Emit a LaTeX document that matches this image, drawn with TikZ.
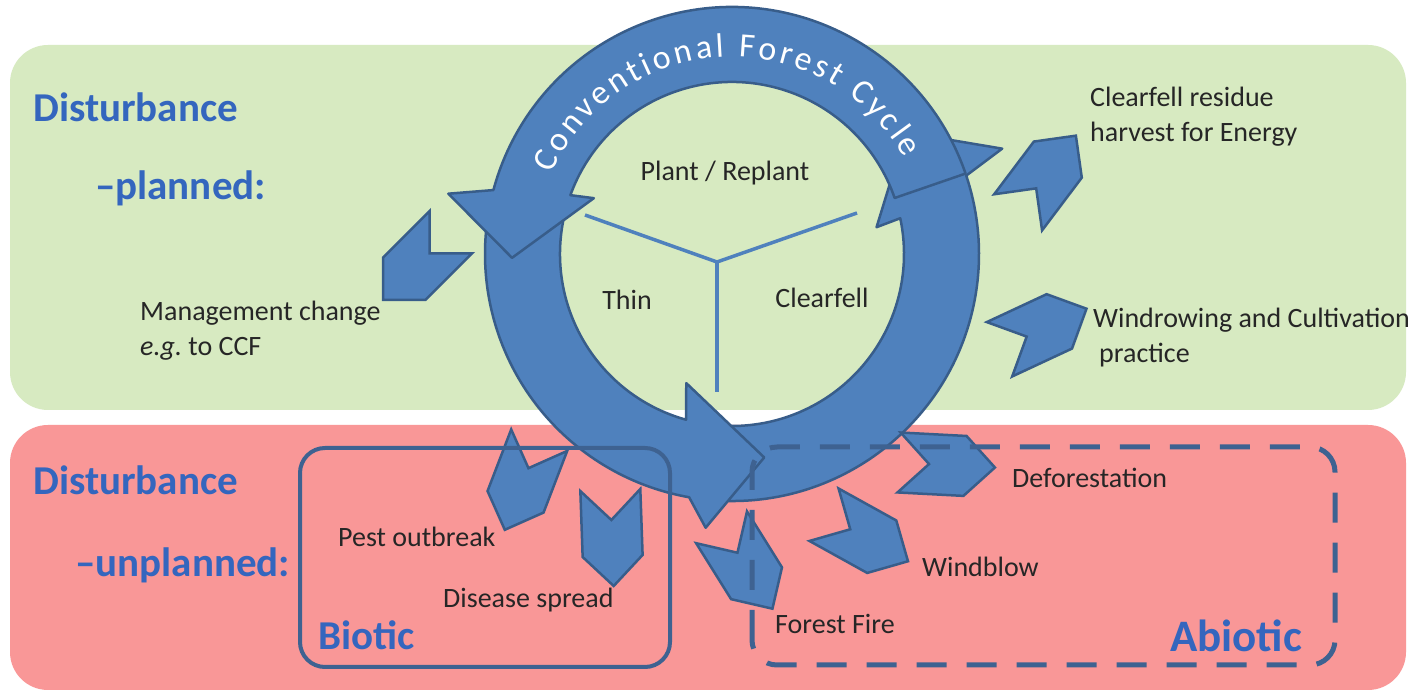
\documentclass[tikz,border=0pt]{standalone}
\usepackage{fontspec}
\setmainfont{Carlito}
\usepackage{tikz}
\usetikzlibrary{decorations.text}

\definecolor{leafgreen}{RGB}{215,234,193}
\definecolor{alarmpink}{RGB}{249,151,151}
\definecolor{cyclefill}{RGB}{79,129,189}
\definecolor{cycleline}{RGB}{56,93,138}
\definecolor{boxline}{RGB}{62,98,145}
\definecolor{headblue}{RGB}{52,102,190}

\tikzset{
  ring/.style={fill=cyclefill, draw=cycleline, line width=2.5pt, line join=round},
  chev/.style={fill=cyclefill, draw=cycleline, line width=2.5pt},
  yline/.style={draw=cyclefill, line width=3.5pt},
  lbl/.style={font=\fontsize{28}{35}\selectfont, text=black!85, anchor=west, inner sep=0pt, align=left},
  head/.style={font=\fontsize{41}{43}\selectfont\bfseries, text=headblue, anchor=west, inner sep=0pt},
  group/.style={draw=boxline, rounded corners=25},
}

\begin{document}
\begin{tikzpicture}[x=1pt, y=1pt]
  \useasboundingbox (0,0) rectangle (1408,695);
  \fill[white] (0,0) rectangle (1408,695);

  % planned / unplanned bands
  \fill[leafgreen, rounded corners=38] (10,285) rectangle (1406,650);
  \fill[alarmpink, rounded corners=38] (10,5) rectangle (1406,270);

  % the cycle, three curved arrows
  \begin{scope}[shift={(732,441)}]
    \filldraw[ring] (262:247) arc[start angle=262, end angle=378.5, radius=247] -- (381.3:290) -- (395:212)
      -- (370.5:147) -- (372:172) arc[start angle=372, end angle=262, radius=172] -- cycle;
    \filldraw[ring] (167:247) arc[start angle=167, end angle=260, radius=247] -- (264.5:275) -- (279:206)
      -- (250.5:137) -- (254.5:172) arc[start angle=254.5, end angle=167, radius=172] -- cycle;
    \filldraw[ring] (19:247) arc[start angle=19, end angle=165, radius=247] -- (168:290) -- (181:220)
      -- (158:149) -- (160:172) arc[start angle=160, end angle=19, radius=172] -- cycle;
    \path[decorate, decoration={text along path, text align=fit to path,
      text={|\fontsize{34}{34}\selectfont\color{white}|Conventional Forest Cycle}}]
      (156:197) arc[start angle=156, end angle=29, radius=197];
  \end{scope}

  % disturbance chevrons
  \foreach \cx/\cy/\ang in {417/429/225, 1047/521/53, 1043/366/25, 522/210/249,
                            612/157/272, 747/127/302, 866/157/331, 947/230/357}
    \draw[chev, shift={(\cx,\cy)}, rotate=\ang]
      (-48,30) -- (18,30) -- (48,0) -- (18,-30) -- (-48,-30) -- (-18,0) -- cycle;

  % stages inside the cycle
  \coordinate (hub) at (717,433);
  \coordinate (hubl) at (585,480);
  \coordinate (hubr) at (857,482);
  \coordinate (hubd) at (717,303);
  \draw[yline] (hubl) -- (hub) -- (hubr);
  \draw[yline] (hub) -- (hubd);
  \node[lbl, anchor=center] (plant) at (725,522) {Plant / Replant};
  \node[lbl, anchor=center] (thin) at (627,395) {Thin};
  \node[lbl, anchor=center] (fell) at (822,397) {Clearfell};

  % biotic / abiotic groups
  \draw[group, line width=4pt] (300,28) rectangle (670,247);
  \draw[group, line width=5pt, dash pattern=on 30 off 20] (752,30) rectangle (1335,248);

  % headings
  \node[head] (distp) at (33,588) {Disturbance};
  \node[head] (plan) at (95,507) {–planned:};
  \node[head] (distu) at (33,215) {Disturbance};
  \node[head] (unplan) at (75,130) {–unplanned:};
  \node[head] (biotic) at (318,60) {Biotic};
  \node[head, font=\fontsize{45}{47}\selectfont\bfseries] (abiotic) at (1170,59) {Abiotic};

  % labels
  \node[lbl] (mgmt) at (140,364) {Management change\\\textit{e.g.}\ to CCF};
  \node[lbl] (resid) at (1090,578) {Clearfell residue\\harvest for Energy};
  \node[lbl] (windrow) at (1093,357) {Windrowing and Cultivation\\\hspace{6pt}practice};
  \node[lbl] (pest) at (338,158) {Pest outbreak};
  \node[lbl] (disease) at (443,95) {Disease spread};
  \node[lbl] (defor) at (1012,217) {Deforestation};
  \node[lbl] (windblow) at (922,128) {Windblow};
  \node[lbl] (fire) at (775,71) {Forest Fire};
\end{tikzpicture}
\end{document}
